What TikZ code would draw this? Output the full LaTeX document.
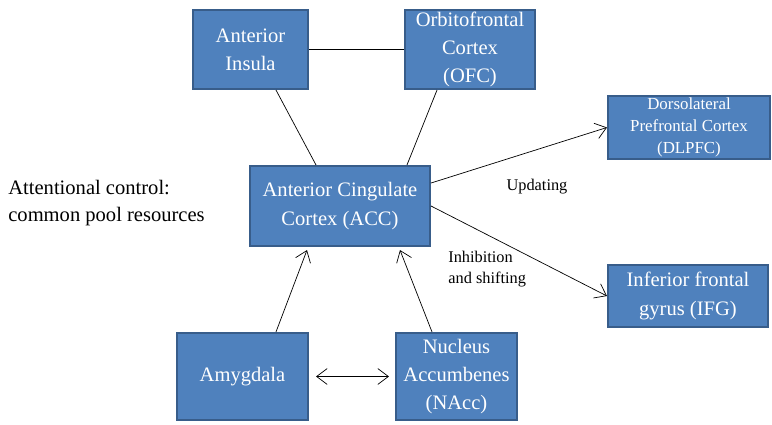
\documentclass[tikz,border=0pt]{standalone}
\usepackage{fontspec}
\setmainfont{LiberationSerif}[Extension=.ttf,UprightFont=*-Regular,BoldFont=*-Bold,ItalicFont=*-Italic]
\usepackage{tikz}
\usetikzlibrary{positioning,arrows.meta}
\definecolor{boxblue}{HTML}{4F81BD}
\definecolor{boxedge}{HTML}{385D8A}
\newcommand{\boxfont}{\fontsize{11.7}{16}\selectfont}

\begin{document}
\begin{tikzpicture}[x=0.02cm,y=-0.02cm,>={Straight Barb[length=6pt,width=9pt]}]
	\tikzstyle{region}=[rectangle,draw=boxedge,line width=1.2pt,fill=boxblue,text=white,align=center,inner sep=1pt,font=\boxfont]
	\tikzstyle{lbl}=[align=left,inner sep=0pt]
	\useasboundingbox (0,0) rectangle (772,424);
		\node[region, minimum width=2.3cm, minimum height=1.58cm] (ins) at (250.5,49.5) {Anterior\\Insula};
		\node[region, minimum width=2.6cm, minimum height=1.58cm] (ofc) at (470,49.5) {Orbitofrontal\\Cortex\\(OFC)};
		\node[region, minimum width=3.6cm, minimum height=1.6cm] (acc) at (340,206) {Anterior Cingulate\\Cortex (ACC)};
		\node[region, minimum width=3.24cm, minimum height=1.22cm, font=\fontsize{9.6}{12.5}\selectfont] (dlpfc) at (689,127.5) {Dorsolateral\\Prefrontal Cortex\\(DLPFC)};
		\node[region, minimum width=3.2cm, minimum height=1.24cm] (ifg) at (688,296) {Inferior frontal\\gyrus (IFG)};
		\node[region, minimum width=2.62cm, minimum height=1.74cm] (amy) at (242.5,376.5) {Amygdala};
		\node[region, minimum width=2.42cm, minimum height=1.74cm] (nacc) at (456.5,376.5) {Nucleus\\Accumbenes\\(NAcc)};
			\draw (ins) -- (ofc);
			\draw ([xshift=0.51cm]ins.south) -- ([xshift=-0.48cm]acc.north);
			\draw ([xshift=-0.66cm]ofc.south) -- ([xshift=1.34cm]acc.north);
			\draw[->] ([yshift=0.46cm]acc.east) -- (dlpfc.west);
			\draw[->] (acc.east) -- (ifg.west);
			\draw[->] ([xshift=0.67cm]amy.north) -- ([xshift=-0.66cm,yshift=-0.06cm]acc.south);
			\draw[->] ([xshift=-0.49cm]nacc.north) -- ([xshift=1.2cm,yshift=-0.06cm]acc.south);
			\draw[<->, shorten <=0.14cm, shorten >=0.12cm] (amy) -- (nacc);
		\node[lbl, font=\fontsize{11.7}{15.5}\selectfont, anchor=west] (attn) at (8,203) {Attentional control:\\common pool resources};
		\node[lbl, font=\fontsize{9.3}{12}\selectfont] (upd) at (537,187) {Updating};
		\node[lbl, font=\fontsize{9.3}{11.5}\selectfont, anchor=west] (inh) at (448,269) {Inhibition\\and shifting};
\end{tikzpicture}
\end{document}
